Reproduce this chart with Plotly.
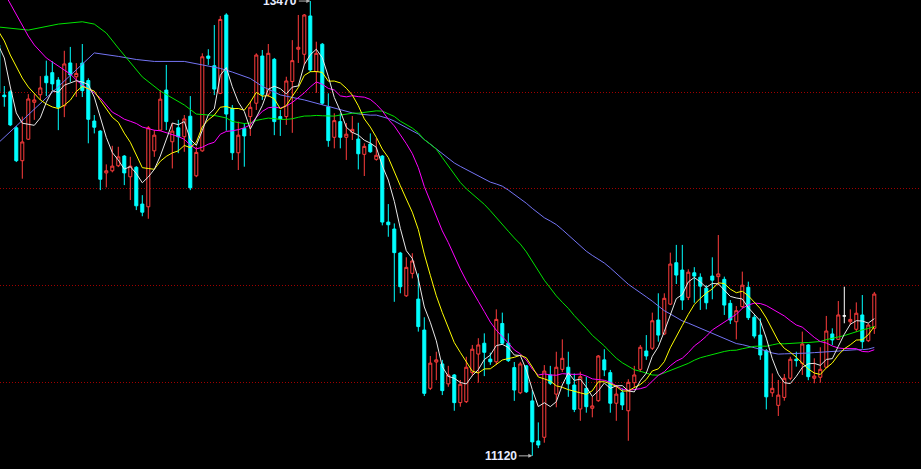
import numpy as np
import pandas as pd
import plotly.graph_objects as go

# candle index (k = -1 is the partially visible first candle)
idx = list(range(-1, 146))

open_ = [13243, 12984, 13001, 12815, 12645, 12756, 12947, 12986, 13082, 13100,
         13062, 12929, 13150, 13079, 13149, 13059, 12850, 12798, 12582, 12593,
         12619, 12669, 12562, 12611, 12421, 12407, 12696, 12803, 13010, 12743,
         12815, 12769, 12875, 12567, 12696, 13186, 13136, 12993, 13398, 12916,
         12686, 12812, 12873, 12942, 13186, 12989, 13169, 12873, 12873, 13054,
         13221, 13195, 13393, 13105, 13247, 12924, 12766, 12847, 12766, 12792,
         12757, 12678, 12731, 12652, 12669, 12328, 12292, 12168, 11947, 12063,
         11930, 11770, 11469, 11605, 11595, 11492, 11538, 11395, 11400, 11550,
         11646, 11702, 11620, 11606, 11804, 11702, 11576, 11446, 11585, 11404,
         11197, 11216, 11538, 11439, 11567, 11578, 11486, 11362, 11469, 11366,
         11405, 11616, 11550, 11392, 11446, 11353, 11498, 11567, 11662, 11676,
         11822, 11750, 11904, 12118, 12080, 11939, 12066, 12043, 11986, 12049,
         12046, 12032, 11908, 11813, 11891, 11991, 11836, 11744, 11663, 11446,
         11381, 11422, 11521, 11619, 11598, 11693, 11521, 11526, 11578, 11750,
         11722, 11843, 11813, 11774, 11848, 11715, 11779]

high_ = [13254, 13031, 13010, 12824, 12873, 12989, 12989, 13082, 13162, 13159,
         13077, 13213, 13233, 13149, 13248, 13071, 12881, 12803, 12626, 12722,
         12717, 12674, 12665, 12617, 12467, 12824, 12803, 13010, 13140, 12838,
         12856, 12881, 12979, 12717, 13200, 13221, 13346, 13393, 13407, 12933,
         12847, 12838, 12950, 13200, 13217, 13248, 13176, 12907, 13079, 13268,
         13398, 13403, 13470, 13260, 13253, 12993, 12890, 12890, 12840, 12876,
         12841, 12735, 12786, 12761, 12674, 12421, 12321, 12174, 12146, 12167,
         12063, 11836, 11636, 11658, 11616, 11585, 11543, 11512, 11632, 11693,
         11728, 11753, 11653, 11877, 11860, 11753, 11605, 11606, 11589, 11460,
         11293, 11589, 11585, 11658, 11722, 11658, 11546, 11555, 11529, 11425,
         11641, 11671, 11564, 11486, 11469, 11516, 11585, 11693, 11744, 11860,
         11960, 11960, 12170, 12210, 12210, 12084, 12095, 12063, 12002, 12146,
         12261, 12046, 11925, 11894, 12072, 12020, 11848, 11831, 11672, 11546,
         11512, 11543, 11632, 11658, 11762, 11698, 11624, 11681, 11843, 11779,
         11920, 11994, 11877, 11913, 11951, 11806, 11967]

low_ = [12995, 12924, 12824, 12638, 12552, 12752, 12856, 12959, 12979, 13010,
        12803, 12870, 13052, 12975, 12974, 12735, 12786, 12493, 12507, 12585,
        12612, 12519, 12442, 12390, 12358, 12345, 12665, 12798, 12803, 12605,
        12684, 12691, 12493, 12560, 12691, 13140, 12984, 12989, 12800, 12649,
        12597, 12614, 12773, 12907, 12959, 12974, 12777, 12773, 12830, 12789,
        13150, 13140, 13103, 12996, 12933, 12717, 12709, 12709, 12649, 12752,
        12600, 12566, 12686, 12645, 12311, 12252, 11916, 11960, 11941, 12037,
        11762, 11429, 11460, 11511, 11434, 11477, 11353, 11374, 11393, 11532,
        11498, 11532, 11590, 11590, 11693, 11605, 11404, 11439, 11445, 11120,
        11160, 11188, 11486, 11371, 11553, 11425, 11346, 11301, 11343, 11319,
        11399, 11532, 11343, 11301, 11357, 11198, 11471, 11553, 11616, 11667,
        11710, 11744, 11899, 12008, 11874, 11925, 11911, 11874, 11877, 11929,
        12002, 11848, 11801, 11722, 11883, 11822, 11727, 11616, 11360, 11425,
        11326, 11405, 11511, 11581, 11538, 11511, 11495, 11498, 11574, 11693,
        11719, 11805, 11796, 11760, 11674, 11708, 11750]

close_ = [13001, 12976, 12830, 12645, 12742, 12964, 12959, 13021, 13048, 13042,
          12921, 13145, 13088, 13096, 13007, 12859, 12818, 12549, 12593, 12617,
          12665, 12582, 12617, 12412, 12379, 12815, 12777, 12963, 12847, 12798,
          12769, 12861, 12505, 12688, 13182, 13174, 13015, 13375, 12886, 12686,
          12777, 12773, 12921, 13191, 12988, 13200, 12847, 12861, 13057, 13162,
          13231, 13398, 13114, 13200, 12942, 12749, 12852, 12766, 12782, 12807,
          12681, 12719, 12691, 12673, 12328, 12314, 12170, 11994, 12094, 12127,
          11788, 11443, 11599, 11616, 11457, 11538, 11395, 11490, 11578, 11671,
          11693, 11655, 11606, 11825, 11702, 11612, 11460, 11595, 11451, 11192,
          11176, 11558, 11495, 11578, 11624, 11492, 11360, 11529, 11374, 11378,
          11636, 11564, 11392, 11439, 11383, 11500, 11538, 11681, 11636, 11818,
          11744, 11934, 12111, 12054, 11925, 12069, 12049, 11997, 11911, 12028,
          12060, 11899, 11822, 11870, 12002, 11834, 11739, 11641, 11425, 11469,
          11434, 11521, 11619, 11612, 11698, 11529, 11532, 11567, 11765, 11719,
          11848, 11843, 11825, 11857, 11710, 11796, 11956]

# moving-average values read off the picture where the window reaches back
# before the first visible candle
ma5_lead = [13243, 13176, 13026, 12892]
ma10_lead = [13315, 13264, 13191, 13129, 13072, 13026, 12990, 12959, 12938]
ma20_lead = [13568, 13512, 13460, 13403, 13341, 13289, 13243, 13207, 13176, 13155,
             13134, 13114, 13093, 13062, 13036, 13016, 12995, 12969, 12933]
ma40_lead_k = [-1, 4, 9, 13, 15, 17, 19, 21, 23, 26, 30, 32, 35, 37]
ma40_lead = [13336, 13320, 13351, 13363, 13351, 13305, 13227, 13155, 13078, 13005,
             12933, 12886, 12879, 12866]
ma60_lead_k = [-1, 6, 12, 15, 19, 22, 25, 30, 33, 36, 38, 41, 43, 46, 50, 53, 57]
ma60_lead = [12737, 12939, 13114, 13202, 13184, 13168, 13158, 13158, 13140, 13122,
             13103, 13070, 13029, 12985, 12959, 12933, 12902]

grid_levels = [13000, 12500, 12000, 11500]
hi_label = "13470"
lo_label = "11120"

c = pd.Series(close_, dtype=float)
ma5 = c.rolling(5).mean().to_numpy()
ma5[:4] = ma5_lead
ma10 = c.rolling(10).mean().to_numpy()
ma10[:9] = ma10_lead
ma20 = c.rolling(20).mean().to_numpy()
ma20[:19] = ma20_lead
ma40 = c.rolling(40).mean().to_numpy()
ma40_x = ma40_lead_k + idx[39:]
ma40_y = ma40_lead + list(ma40[39:])
ma60 = c.rolling(60).mean().to_numpy()
ma60_x = ma60_lead_k + idx[59:]
ma60_y = ma60_lead + list(ma60[59:])

o = np.array(open_); h = np.array(high_); l = np.array(low_); cl = np.array(close_)
x = np.array(idx)
flat = o == cl
nf = ~flat

RED = "#FF3C3C"
CYAN = "#00FFFF"

fig = go.Figure()
fig.add_trace(go.Candlestick(
    x=x[nf], open=o[nf], high=h[nf], low=l[nf], close=cl[nf],
    increasing=dict(line=dict(color=RED, width=1), fillcolor="#000000"),
    decreasing=dict(line=dict(color=CYAN, width=1), fillcolor=CYAN),
    whiskerwidth=0, hoverinfo="skip", showlegend=False))
fig.add_trace(go.Candlestick(
    x=x[flat], open=o[flat], high=h[flat], low=l[flat], close=cl[flat],
    increasing=dict(line=dict(color="#FFFFFF", width=1), fillcolor="#FFFFFF"),
    decreasing=dict(line=dict(color="#FFFFFF", width=1), fillcolor="#FFFFFF"),
    whiskerwidth=0, hoverinfo="skip", showlegend=False))

line_specs = [
    (ma60_x, ma60_y, "#7474F4"),
    (ma40_x, ma40_y, "#00E400"),
    (idx, ma20, "#FF00FF"),
    (idx, ma10, "#FFFF00"),
    (idx, ma5, "#E8E8E8"),
]
for xs, ys, col in line_specs:
    fig.add_trace(go.Scatter(x=xs, y=ys, mode="lines",
                             line=dict(color=col, width=1),
                             hoverinfo="skip", showlegend=False))

lab_font = dict(family="Liberation Sans, Arial, sans-serif", size=12,
                color="#E6ECFF", weight="bold")
fig.add_annotation(x=51, y=float(hi_label), text=hi_label, showarrow=True,
                   ax=-30, ay=0, arrowhead=2, arrowsize=0.8, arrowwidth=1,
                   arrowcolor="#B4B4B4", font=lab_font, standoff=0)
fig.add_annotation(x=88, y=float(lo_label), text=lo_label, showarrow=True,
                   ax=-31, ay=0, arrowhead=2, arrowsize=0.8, arrowwidth=1,
                   arrowcolor="#B4B4B4", font=lab_font, standoff=0)

x0 = -0.717
fig.update_layout(
    width=921, height=469,
    margin=dict(l=0, r=0, t=0, b=0),
    paper_bgcolor="#000000", plot_bgcolor="#000000",
    showlegend=False, boxgap=0.28,
    xaxis=dict(range=[x0, x0 + 921 / 6.0], showgrid=False, zeroline=False,
               showticklabels=False, showline=False, ticks="",
               rangeslider=dict(visible=False), fixedrange=True),
    yaxis=dict(range=[11052.1, 13475.4], tickvals=grid_levels, showgrid=True,
               gridcolor="#A00000", griddash="1px,2px", gridwidth=1,
               showticklabels=False, zeroline=False, showline=False, ticks="",
               fixedrange=True),
)

fig.write_html("out.html", config={"displayModeBar": False},
               post_script="document.body.style.margin='0px';"
                           "document.body.style.background='#000';")
